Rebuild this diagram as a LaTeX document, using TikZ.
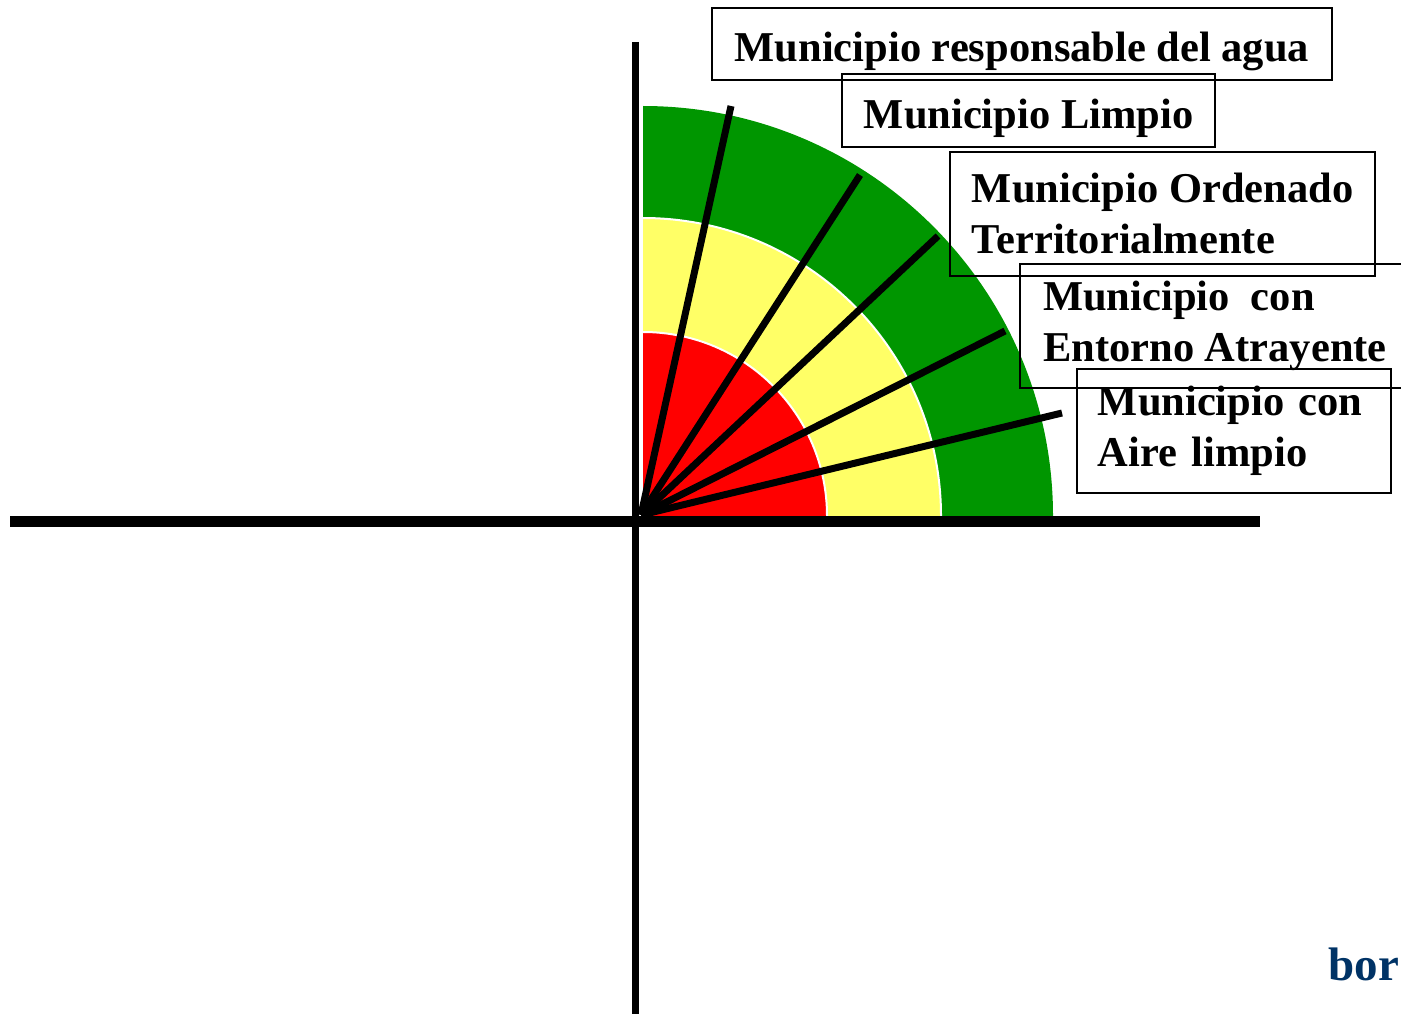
\documentclass[tikz,border=0pt]{standalone}
\usepackage{fontspec}
\setmainfont{Liberation Serif}
\usepackage{xcolor}
\definecolor{verde}{RGB}{0,150,0}
\definecolor{amarillo}{RGB}{255,255,102}
\definecolor{azul}{RGB}{0,51,102}
\newcommand{\letra}{\fontsize{21.25}{25.5}\selectfont\bfseries}
\begin{document}
\begin{tikzpicture}[x=0.5pt,y=0.5pt]
    \tikzstyle{every node}+=[inner sep=0pt]
    \tikzstyle{caja}=[draw=black, line width=0.9pt, anchor=north west, inner xsep=11pt, font=\letra]
    \tikzstyle{rayo}=[black, line width=3.5pt]
    \tikzstyle{borde}=[white, line width=1pt]
    \useasboundingbox (0,0) rectangle (1401,1014);
    \coordinate (centro) at (643,498);
    \coordinate (origen) at (641,499);
    \fill [verde] (centro) -- ++(410,0) arc [start angle=0, end angle=90, radius=410] -- cycle;
    \fill [amarillo] (centro) -- ++(298,0) arc [start angle=0, end angle=90, radius=298] -- cycle;
    \draw [borde] (centro) ++(298,0) arc [start angle=0, end angle=90, radius=298];
    \fill [red] (centro) -- ++(184,0) arc [start angle=0, end angle=90, radius=184] -- cycle;
    \draw [borde] (centro) ++(184,0) arc [start angle=0, end angle=90, radius=184];
    \draw [black, line width=3.5pt] (635.5,972) -- (635.5,0);
    \draw [black, line width=5.5pt] (10,492.5) -- (1260,492.5);
    \coordinate (r1) at (731,908);
    \coordinate (r2) at (860,839);
    \coordinate (r3) at (938,778);
    \coordinate (r4) at (1005,683);
    \coordinate (r5) at (1062,601);
    \draw [rayo] (origen) -- (r1);
    \draw [rayo] (origen) -- (r2);
    \draw [rayo] (origen) -- (r3);
    \draw [rayo] (origen) -- (r4);
    \draw [rayo] (origen) -- (r5);
    \node [caja, align=center, minimum width=310pt, minimum height=36pt, text height=18pt, text depth=0pt] (agua) at (711,1007) {Municipio responsable del agua};
    \node [caja, align=center, minimum width=186pt, minimum height=36.5pt, text height=18pt, text depth=0pt] (limpio) at (841,941) {Municipio Limpio};
    \node [caja, align=left, minimum width=212.5pt, minimum height=62pt] (ordenado) at (949,863) {Municipio Ordenado\\Territorialmente};
    \node [caja, align=left, minimum width=195pt, minimum height=62pt] (entorno) at (1019,751) {Municipio\ \ con\\Entorno Atrayente};
    \node [caja, align=left, inner xsep=10.5pt, text width=136pt, minimum height=62pt] (aire) at (1076,646) {Municipio con\\Aire limpio};
    \node [anchor=base west, text=azul, font=\fontsize{23.5}{28}\selectfont\bfseries] (bor) at (1328,34) {bor};
\end{tikzpicture}
\end{document}
